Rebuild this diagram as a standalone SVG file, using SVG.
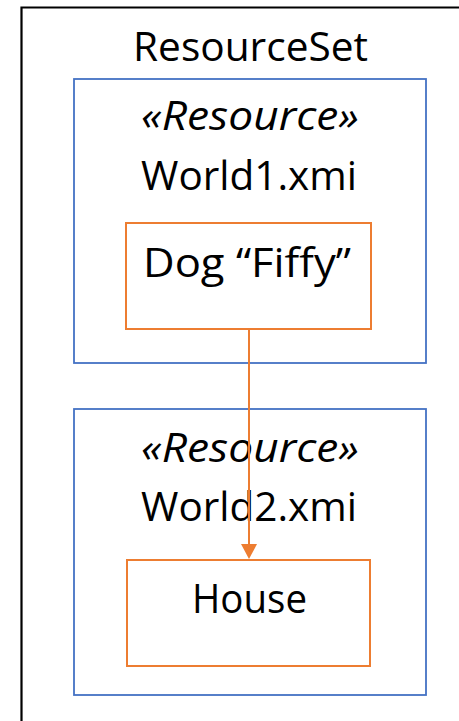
<svg xmlns="http://www.w3.org/2000/svg" width="459" height="721" viewBox="0 0 459 721">
<style>
text{font-family:"Open Sans","Liberation Sans",sans-serif;font-size:41px;fill:#000;text-anchor:middle}
.it{font-style:italic}
.res{fill:#fff;stroke:#4472C4;stroke-width:1.8}
.obj{fill:#fff;stroke:#ED7D31;stroke-width:2}
.conn{stroke:#ED7D31;stroke-width:2;fill:none}
</style>
<rect width="459" height="721" fill="#fff"/>
<g id="resourceSet">
<path d="M21.5,725 V7.5 H465" fill="none" stroke="#000" stroke-width="2.2"/>
<text x="250.5" y="61" textLength="235" lengthAdjust="spacingAndGlyphs">ResourceSet</text>
</g>
<g id="world1">
<rect class="res" x="74" y="79" width="352" height="284"/>
<text class="it" x="250" y="130" textLength="218" lengthAdjust="spacingAndGlyphs">«Resource»</text>
<text x="249" y="190" textLength="216" lengthAdjust="spacingAndGlyphs">World1.xmi</text>
</g>
<g id="world2">
<rect class="res" x="74" y="409" width="352" height="286"/>
<text class="it" x="250" y="462" textLength="218" lengthAdjust="spacingAndGlyphs">«Resource»</text>
<text x="249" y="521" textLength="216" lengthAdjust="spacingAndGlyphs">World2.xmi</text>
</g>
<g id="dog">
<rect class="obj" x="126" y="223" width="245" height="106"/>
<text x="247" y="277" textLength="208" lengthAdjust="spacingAndGlyphs">Dog “Fiffy”</text>
</g>
<g id="house">
<rect class="obj" x="127" y="560" width="243" height="106"/>
<text x="249.5" y="613" textLength="115" lengthAdjust="spacingAndGlyphs">House</text>
</g>
<g id="connectors">
<line class="conn" x1="249" y1="329" x2="249" y2="545"/>
<polygon points="241,544 257,544 249,559" fill="#ED7D31"/>
</g>
</svg>
